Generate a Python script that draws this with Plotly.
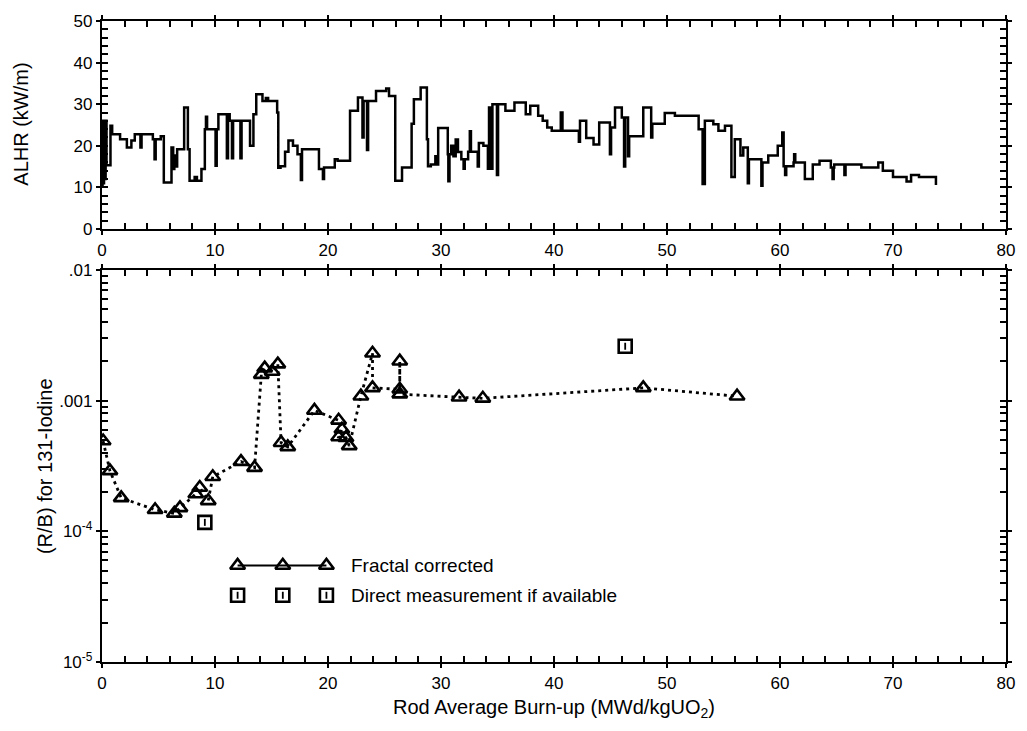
import math
import plotly.graph_objects as go

# ---------------- data ----------------
# Top panel: ALHR power history (step curve), burn-up (MWd/kgUO2) vs ALHR (kW/m)
alhr_burnup = [0.00, 0.05, 0.12, 0.18, 0.25, 0.32, 0.40, 0.75, 0.90, 1.60, 2.20, 2.60, 2.90, 3.40, 3.50,
               4.50, 4.65, 4.75, 5.20, 5.47, 6.15, 6.30, 6.40, 6.55, 6.65, 7.27, 7.60, 7.75, 8.20, 8.40,
               8.80, 9.10, 9.20, 9.30, 10.05, 10.15, 10.30, 11.05, 11.15, 11.30, 11.50, 11.60, 12.25, 12.35,
               13.10, 13.40, 13.65, 14.20, 14.50, 14.70, 15.50, 15.60, 15.80, 16.20, 16.50, 16.90, 17.30,
               17.60, 17.70, 19.20, 19.55, 19.65, 20.60, 20.85, 21.95, 22.65, 23.05, 23.15, 23.45, 23.55,
               24.25, 25.15, 25.40, 25.95, 26.55, 27.40, 27.60, 28.20, 28.75, 28.85, 29.10, 29.50, 29.60,
               29.75, 30.60, 30.65, 30.75, 30.90, 31.10, 31.30, 31.50, 31.80, 32.00, 32.10, 32.40, 32.55,
               32.65, 33.25, 33.35, 33.75, 34.15, 34.25, 34.45, 34.55, 34.95, 35.05, 35.70, 36.50, 37.50,
               37.90, 38.60, 39.00, 39.40, 39.80, 40.60, 40.75, 42.20, 42.30, 42.85, 43.50, 44.00, 44.95,
               45.05, 45.40, 46.00, 46.20, 46.30, 46.55, 46.65, 47.90, 48.60, 48.70, 49.80, 50.70, 52.80,
               53.15, 53.35, 54.10, 54.55, 55.13, 55.70, 56.00, 56.50, 56.75, 57.15, 57.25, 58.35, 58.45,
               58.96, 59.80, 60.20, 60.32, 60.45, 60.55, 61.20, 61.25, 61.35, 62.20, 62.90, 63.50, 64.50,
               64.65, 64.75, 64.80, 65.70, 65.80, 67.20, 68.70, 69.10, 70.00, 71.20, 71.60, 72.30, 73.80]
alhr_kwm = [10.5, 26.0, 11.0, 25.0, 12.0, 26.0, 15.3, 24.8, 22.8, 21.6, 19.6, 21.3, 22.8, 19.6, 22.8,
            21.6, 16.8, 21.6, 22.3, 11.2, 19.6, 14.4, 17.7, 15.0, 19.2, 29.2, 19.2, 11.6, 12.5, 11.6,
            14.4, 24.0, 27.0, 24.0, 15.2, 24.0, 27.6, 17.0, 27.6, 26.0, 17.0, 26.0, 17.0, 26.0,
            20.0, 27.6, 32.4, 30.8, 31.5, 30.8, 28.0, 14.7, 15.1, 18.6, 21.3, 20.0, 18.0,
            11.8, 19.2, 14.4, 12.0, 14.8, 16.8, 16.4, 28.4, 31.6, 22.0, 30.8, 19.0, 30.8,
            33.2, 33.8, 32.0, 11.6, 14.8, 25.3, 31.2, 34.0, 21.6, 15.1, 15.5, 17.5, 15.5,
            24.3, 18.0, 11.5, 18.0, 20.0, 17.5, 21.5, 18.5, 16.8, 14.5, 16.8, 18.6, 23.5,
            18.6, 15.0, 20.7, 20.0, 14.5, 29.2, 14.5, 30.0, 13.0, 30.0, 28.4, 30.4, 27.6,
            29.6, 27.2, 26.0, 24.4, 23.6, 28.0, 23.6, 21.0, 26.0, 21.9, 20.3, 25.6, 18.0,
            24.4, 29.2, 26.8, 15.0, 26.8, 17.5, 22.3, 29.2, 22.0, 25.3, 27.9, 27.2, 24.0,
            10.8, 26.0, 25.2, 23.6, 24.8, 12.5, 21.6, 17.7, 19.6, 11.0, 16.8, 10.4, 16.0,
            17.7, 20.0, 23.2, 15.1, 13.0, 15.1, 16.0, 18.0, 16.0, 12.0, 15.5, 16.4, 14.8,
            12.0, 14.8, 15.5, 13.0, 15.5, 14.8, 16.0, 14.0, 12.5, 11.4, 13.0, 12.5, 10.6]

# Bottom panel: (R/B) for 131-Iodine, fractal corrected (in plotting order)
fc_burnup = [0.1, 0.7, 1.7, 4.7, 6.4, 6.9, 8.3, 8.65, 9.4, 9.8, 12.3, 13.5, 14.1, 14.4, 15.06, 15.56,
             15.85, 16.44, 18.8, 20.94, 21.23, 20.94, 21.59, 21.88, 22.91, 23.94, 23.94, 26.35, 26.35,
             26.35, 31.6, 33.7, 47.9, 56.2]
fc_rb = [4.9e-4, 2.9e-4, 1.8e-4, 1.46e-4, 1.37e-4, 1.51e-4, 1.93e-4, 2.16e-4, 1.71e-4, 2.61e-4,
         3.41e-4, 3.07e-4, 1.58e-3, 1.77e-3, 1.67e-3, 1.9e-3, 4.76e-4, 4.42e-4, 8.4e-4, 7.06e-4,
         6.03e-4, 5.26e-4, 5.2e-4, 4.5e-4, 1.08e-3, 2.3e-3, 1.25e-3, 1.22e-3, 2.0e-3, 1.12e-3,
         1.06e-3, 1.04e-3, 1.25e-3, 1.08e-3]

# Direct measurement
dm_burnup = [9.1, 46.3]
dm_rb = [1.17e-4, 2.6e-3]

x_ticks = [0, 10, 20, 30, 40, 50, 60, 70, 80]
x_minor = list(range(0, 81, 2))
alhr_ticks = [0, 10, 20, 30, 40, 50]
alhr_minor = list(range(0, 51, 2))
rb_tickvals = [1e-5, 1e-4, 1e-3, 1e-2]
rb_ticktext = ["10<sup>-5</sup>", "10<sup>-4</sup>", ".001", ".01"]
rb_minor = [k * 10.0 ** e for e in (-5, -4, -3) for k in range(1, 10)] + [1e-2]

legend_labels = ["Fractal corrected", "Direct measurement if available"]

# ---------------- layout constants ----------------
FONT = "Liberation Sans, Arial, Helvetica, sans-serif"
W, H = 1027, 731
ML, MR, MT, MB = 102, 19, 18, 69
PLOT_H = H - MT - MB
PLOT_W = W - ML - MR
TOP_DOM = [1 - 209 / PLOT_H, 1]
BOT_DOM = [0, 394 / PLOT_H]

# legend sample placement (bottom panel data space)
LEG_X = [12.0, 16.0, 19.86]
LEG_ROW1 = 5.48e-5
LEG_ROW2 = 3.24e-5
LEG_TEXT_X = 21.9

fig = go.Figure()

fig.add_trace(go.Scatter(x=alhr_burnup, y=alhr_kwm, mode="lines", line_shape="hv",
                         line=dict(color="black", width=2.5), xaxis="x", yaxis="y",
                         showlegend=False))

fig.add_trace(go.Scatter(x=fc_burnup, y=fc_rb, mode="lines",
                         line=dict(color="black", width=2.8, dash="3px,4px"),
                         xaxis="x2", yaxis="y2", showlegend=False))
tri = dict(symbol="triangle-up-open", size=13, color="black", line=dict(width=2.6, color="black"))
sq = dict(symbol="square-open", size=13, color="black", line=dict(width=2.6, color="black"))
tick_in = dict(symbol="line-ns", size=5, color="black", line=dict(width=1.8, color="black"))

fig.add_trace(go.Scatter(x=fc_burnup, y=fc_rb, mode="markers", marker=tri,
                         xaxis="x2", yaxis="y2", showlegend=False))
fig.add_trace(go.Scatter(x=dm_burnup, y=dm_rb, mode="markers", marker=sq,
                         xaxis="x2", yaxis="y2", showlegend=False))
fig.add_trace(go.Scatter(x=dm_burnup, y=dm_rb, mode="markers", marker=tick_in,
                         xaxis="x2", yaxis="y2", showlegend=False))

# custom legend samples
fig.add_trace(go.Scatter(x=LEG_X, y=[LEG_ROW1] * 3, mode="lines+markers",
                         line=dict(color="black", width=2), marker=tri,
                         xaxis="x2", yaxis="y2", showlegend=False))
fig.add_trace(go.Scatter(x=LEG_X, y=[LEG_ROW2] * 3, mode="markers", marker=sq,
                         xaxis="x2", yaxis="y2", showlegend=False))
fig.add_trace(go.Scatter(x=LEG_X, y=[LEG_ROW2] * 3, mode="markers", marker=tick_in,
                         xaxis="x2", yaxis="y2", showlegend=False))

# invisible traces that anchor the overlay axes carrying the inside (minor + major) ticks
for xa, ya in (("x3", "y"), ("x", "y3"), ("x4", "y2"), ("x2", "y4")):
    fig.add_trace(go.Scatter(x=[None], y=[None], mode="markers", xaxis=xa, yaxis=ya,
                             showlegend=False, hoverinfo="skip"))

tickfont = dict(family=FONT, size=17, color="black")
common = dict(showline=True, linewidth=2.4, linecolor="black", mirror="ticks",
              ticks="outside", ticklen=4, tickwidth=2.2, tickcolor="black",
              showgrid=False, zeroline=False, tickfont=tickfont)
inner = dict(showline=True, linewidth=2.4, linecolor="black", mirror="ticks",
             ticks="inside", ticklen=6, tickwidth=2.2, tickcolor="black",
             showgrid=False, zeroline=False, showticklabels=False)

fig.update_layout(
    width=W, height=H,
    margin=dict(l=ML, r=MR, t=MT, b=MB),
    paper_bgcolor="white", plot_bgcolor="white",
    font=dict(family=FONT, color="black"),
    xaxis=dict(domain=[0, 1], anchor="y", range=[0, 80], tickvals=x_ticks, **common),
    yaxis=dict(domain=TOP_DOM, anchor="x", range=[0, 50], tickvals=alhr_ticks, **common),
    xaxis2=dict(domain=[0, 1], anchor="y2", range=[0, 80], tickvals=x_ticks, **common),
    yaxis2=dict(domain=BOT_DOM, anchor="x2", type="log", range=[-5, -2],
                tickvals=rb_tickvals, ticktext=rb_ticktext, **common),
    xaxis3=dict(overlaying="x", anchor="y", range=[0, 80], tickvals=x_minor, **inner),
    yaxis3=dict(overlaying="y", anchor="x", range=[0, 50], tickvals=alhr_minor, **inner),
    xaxis4=dict(overlaying="x2", anchor="y2", range=[0, 80], tickvals=x_minor, **inner),
    yaxis4=dict(overlaying="y2", anchor="x2", type="log", range=[-5, -2], tickvals=rb_minor, **inner),
    showlegend=False,
)

annotations = [
    dict(text="ALHR (kW/m)", xref="paper", yref="paper", x=(20 - ML) / PLOT_W,
         y=(H - MB - 122) / PLOT_H, textangle=-90, showarrow=False,
         xanchor="center", yanchor="middle", font=dict(family=FONT, size=20, color="black")),
    dict(text="(R/B) for 131-Iodine", xref="paper", yref="paper", x=(45 - ML) / PLOT_W,
         y=(H - MB - 465) / PLOT_H, textangle=-90, showarrow=False,
         xanchor="center", yanchor="middle", font=dict(family=FONT, size=20, color="black")),
    dict(text="Rod Average Burn-up (MWd/kgUO<sub>2</sub>)", xref="paper", yref="paper", x=0.5,
         y=(H - MB - 709) / PLOT_H, showarrow=False, xanchor="center", yanchor="middle",
         font=dict(family=FONT, size=20, color="black")),
    dict(text=legend_labels[0], xref="x2", yref="y2", x=LEG_TEXT_X, y=math.log10(LEG_ROW1),
         showarrow=False, xanchor="left", yanchor="middle", font=dict(family=FONT, size=19, color="black")),
    dict(text=legend_labels[1], xref="x2", yref="y2", x=LEG_TEXT_X, y=math.log10(LEG_ROW2),
         showarrow=False, xanchor="left", yanchor="middle", font=dict(family=FONT, size=19, color="black")),
]
fig.update_layout(annotations=annotations)

fig.write_html("out.html")
